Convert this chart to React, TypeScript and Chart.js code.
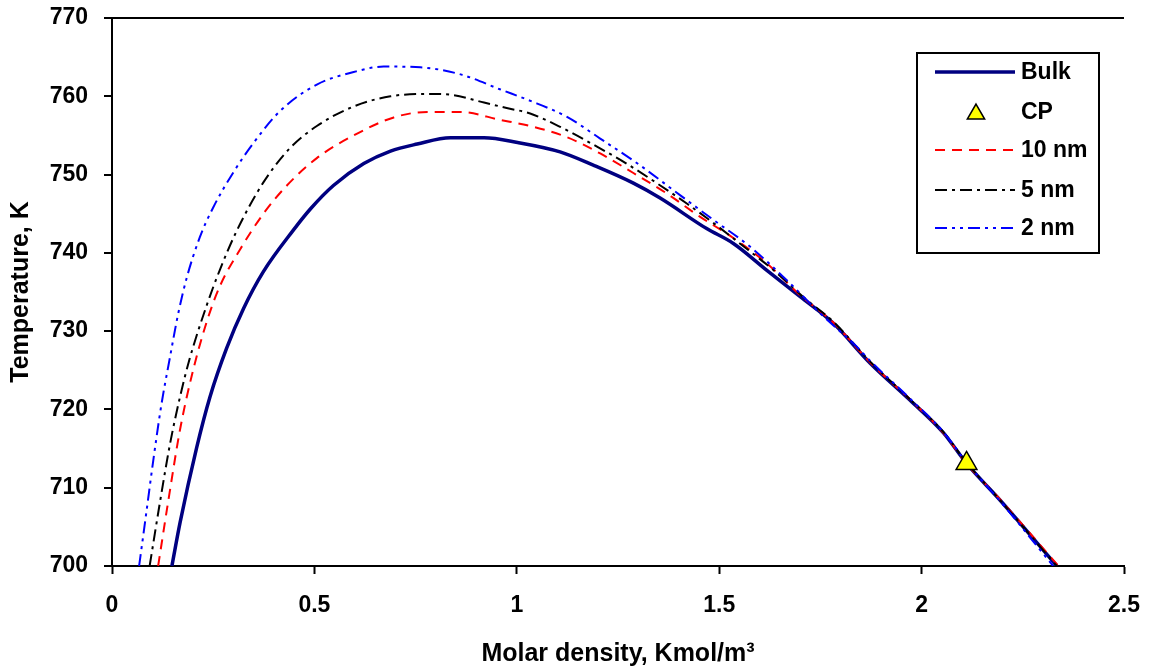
import React, { useEffect, useRef } from 'react';
import { Chart, registerables } from 'chart.js';

Chart.register(...registerables);

// ---------- data ----------
const bulkX = [0.148, 0.168, 0.209, 0.242, 0.283, 0.325, 0.374, 0.448, 0.49, 0.547, 0.622, 0.688, 0.754, 0.836, 0.919, 1.002, 1.107, 1.189, 1.288, 1.354, 1.469, 1.535, 1.617, 1.7, 1.782, 1.873, 1.971, 2.054, 2.111, 2.194, 2.334];
const bulkT = [700, 705.5, 715.1, 721.6, 727.8, 732.9, 737.6, 742.9, 745.6, 748.6, 751.4, 753, 753.9, 754.7, 754.7, 754.1, 752.9, 751.2, 748.9, 747.0, 743.1, 741.2, 737.8, 734.4, 731.0, 725.9, 721.2, 717, 713.1, 708.4, 700];

const nm10X = [0.114, 0.139, 0.168, 0.197, 0.234, 0.267, 0.316, 0.374, 0.432, 0.506, 0.597, 0.696, 0.779, 0.861, 0.958, 1.041, 1.123, 1.206, 1.288, 1.37, 1.453, 1.535, 1.617, 1.7, 1.782, 1.873, 1.971, 2.054, 2.111, 2.194, 2.338];
const nm10T = [700, 708.3, 717.4, 724.3, 731.2, 735.8, 740.4, 745, 748.6, 752.1, 755, 757.3, 758, 758, 757, 756.1, 754.8, 752.7, 750.2, 747.6, 744.6, 741.9, 738.7, 734.6, 731.1, 726, 721.3, 717, 713.1, 708.5, 700];

const nm5X = [0.093, 0.118, 0.143, 0.168, 0.192, 0.234, 0.267, 0.308, 0.374, 0.44, 0.506, 0.597, 0.688, 0.779, 0.836, 0.919, 0.975, 1.033, 1.107, 1.197, 1.271, 1.346, 1.42, 1.486, 1.551, 1.634, 1.716, 1.782, 1.873, 1.971, 2.054, 2.111, 2.194, 2.334];
const nm5T = [700, 708, 715.5, 721.6, 726.5, 733.3, 737.9, 742.8, 749.0, 753.4, 756.2, 758.7, 760, 760.3, 760.2, 759.2, 758.5, 757.8, 756.1, 753.6, 751.4, 748.9, 746.3, 743.8, 741.2, 737.8, 734, 731.2, 726.1, 721.3, 717.1, 713.2, 708.4, 700];

const nm2X = [0.067, 0.085, 0.102, 0.122, 0.143, 0.163, 0.184, 0.217, 0.25, 0.3, 0.349, 0.415, 0.506, 0.597, 0.671, 0.762, 0.861, 0.958, 1.049, 1.123, 1.206, 1.304, 1.387, 1.486, 1.576, 1.667, 1.749, 1.84, 1.873, 1.971, 2.054, 2.111, 2.194, 2.325];
const nm2T = [700, 706.9, 713.5, 720.6, 726.6, 732.1, 736.7, 742, 745.8, 750.3, 754.0, 758.1, 761.5, 763.1, 763.8, 763.7, 762.8, 760.9, 759.1, 757.4, 754.6, 751.2, 748, 744.2, 740.8, 736.5, 732.3, 728, 726.2, 721.4, 717.1, 713.2, 708.3, 700];

const cpX = [2.111];
const cpT = [713.1];

const seriesNames = ['Bulk', 'CP', '10 nm', '5 nm', '2 nm'];
const xTicks = [0, 0.5, 1, 1.5, 2, 2.5];
const xTickLabels = ['0', '0.5', '1', '1.5', '2', '2.5'];
const yTicks = [700, 710, 720, 730, 740, 750, 760, 770];
const xTitle = 'Molar density, Kmol/m\u00B3';
const yTitle = 'Temperature, K';

const FONT = '"Liberation Sans", Arial, Helvetica, sans-serif';

const zip = (xs: number[], ys: number[]) => xs.map((x, i) => ({ x, y: ys[i] }));

function drawTriangle(ctx: CanvasRenderingContext2D, x: number, y: number, r: number) {
  ctx.beginPath();
  ctx.moveTo(x, y - r);
  ctx.lineTo(x + r * Math.sin((2 * Math.PI) / 3), y - r * Math.cos((2 * Math.PI) / 3));
  ctx.lineTo(x + r * Math.sin((4 * Math.PI) / 3), y - r * Math.cos((4 * Math.PI) / 3));
  ctx.closePath();
  ctx.fillStyle = '#FFFF00';
  ctx.fill();
  ctx.lineWidth = 1.5;
  ctx.strokeStyle = '#000';
  ctx.stroke();
}

const boxLegend = {
  id: 'boxLegend',
  afterDraw(chart: any) {
    const ctx: CanvasRenderingContext2D = chart.ctx;
    const left = 917;
    const top = 53;
    const w = 182;
    const h = 200;
    const rows = [72, 112, 150, 190, 228];
    ctx.save();
    ctx.fillStyle = '#fff';
    ctx.fillRect(left, top, w, h);
    ctx.strokeStyle = '#000';
    ctx.lineWidth = 2;
    ctx.setLineDash([]);
    ctx.strokeRect(left, top, w, h);
    chart.data.datasets.forEach((ds: any, i: number) => {
      const y = rows[i];
      if (ds.showLine === false) {
        drawTriangle(ctx, 976, y + 2, 10);
      } else {
        ctx.beginPath();
        ctx.setLineDash(ds.borderDash || []);
        ctx.strokeStyle = ds.borderColor;
        ctx.lineWidth = ds.borderWidth;
        ctx.moveTo(935, y);
        ctx.lineTo(1015, y);
        ctx.stroke();
        ctx.setLineDash([]);
      }
      ctx.fillStyle = '#000';
      ctx.font = `bold 23px ${FONT}`;
      ctx.textAlign = 'left';
      ctx.textBaseline = 'middle';
      ctx.fillText(seriesNames[i], 1021, y + 1);
    });
    ctx.restore();
  },
};

export default function App() {
  const ref = useRef<HTMLCanvasElement | null>(null);

  useEffect(() => {
    if (!ref.current) return;
    const chart = new Chart(ref.current, {
      type: 'scatter',
      data: {
        datasets: [
          {
            label: seriesNames[0],
            data: zip(bulkX, bulkT),
            showLine: true,
            borderColor: '#000080',
            backgroundColor: '#000080',
            borderWidth: 3.5,
            pointRadius: 0,
            cubicInterpolationMode: 'monotone',
            order: 5,
          },
          {
            label: seriesNames[1],
            data: zip(cpX, cpT),
            showLine: false,
            pointStyle: 'triangle',
            pointRadius: 12,
            pointBackgroundColor: '#FFFF00',
            pointBorderColor: '#000',
            pointBorderWidth: 1.5,
            order: 0,
          },
          {
            label: seriesNames[2],
            data: zip(nm10X, nm10T),
            showLine: true,
            borderColor: '#FF0000',
            borderWidth: 2,
            borderDash: [10, 7],
            pointRadius: 0,
            cubicInterpolationMode: 'monotone',
            order: 3,
          },
          {
            label: seriesNames[3],
            data: zip(nm5X, nm5T),
            showLine: true,
            borderColor: '#000000',
            borderWidth: 2,
            borderDash: [12, 5, 3, 5],
            pointRadius: 0,
            cubicInterpolationMode: 'monotone',
            order: 2,
          },
          {
            label: seriesNames[4],
            data: zip(nm2X, nm2T),
            showLine: true,
            borderColor: '#0000FF',
            borderWidth: 2,
            borderDash: [12, 5, 3, 5, 3, 5],
            pointRadius: 0,
            cubicInterpolationMode: 'monotone',
            order: 1,
          },
        ],
      },
      options: {
        responsive: false,
        animation: false,
        events: [],
        layout: { padding: { top: 18, right: 26, bottom: 0, left: 0 } },
        plugins: {
          legend: { display: false },
          tooltip: { enabled: false },
        },
        scales: {
          x: {
            type: 'linear',
            min: 0,
            max: 2.5,
            afterBuildTicks: (scale: any) => {
              scale.ticks = xTicks.map((v) => ({ value: v }));
            },
            afterFit: (scale: any) => {
              scale.height = 106;
              scale.paddingLeft = 0;
              scale.paddingRight = 0;
            },
            grid: {
              display: true,
              drawOnChartArea: false,
              tickLength: 8,
              tickColor: '#000',
              tickWidth: 2,
            },
            border: { display: true, color: '#000', width: 2 },
            ticks: {
              color: '#000',
              font: { family: FONT, size: 23, weight: 'bold' },
              padding: 18,
              maxRotation: 0,
              autoSkip: false,
              callback: (value: any) => {
                const i = xTicks.indexOf(Number(value));
                return i >= 0 ? xTickLabels[i] : '';
              },
            },
            title: {
              display: true,
              text: xTitle,
              color: '#000',
              font: { family: FONT, size: 25, weight: 'bold' },
              padding: { top: 0, bottom: 3 },
            },
          },
          y: {
            type: 'linear',
            min: 700,
            max: 770,
            afterBuildTicks: (scale: any) => {
              scale.ticks = yTicks.map((v) => ({ value: v }));
            },
            afterFit: (scale: any) => {
              scale.width = 112;
              scale.paddingTop = 0;
              scale.paddingBottom = 0;
            },
            grid: {
              display: true,
              drawOnChartArea: true,
              color: (ctx: any) => (ctx.tick && ctx.tick.value === 770 ? '#000' : 'rgba(0,0,0,0)'),
              lineWidth: 2,
              tickLength: 8,
              tickColor: '#000',
              tickWidth: 2,
            },
            border: { display: true, color: '#000', width: 2 },
            ticks: {
              color: '#000',
              font: { family: FONT, size: 23, weight: 'bold' },
              padding: 16,
              autoSkip: false,
              callback: (value: any) => String(value),
            },
            title: {
              display: true,
              text: yTitle,
              color: '#000',
              font: { family: FONT, size: 25, weight: 'bold' },
              padding: { top: 6, bottom: 0 },
            },
          },
        },
      },
      plugins: [boxLegend],
    } as any);
    return () => chart.destroy();
  }, []);

  return (
    <div style={{ position: 'absolute', left: 0, top: 0, width: 1150, height: 672, background: '#fff' }}>
      <canvas ref={ref} width={1150} height={672} style={{ display: 'block', width: 1150, height: 672 }} />
    </div>
  );
}
